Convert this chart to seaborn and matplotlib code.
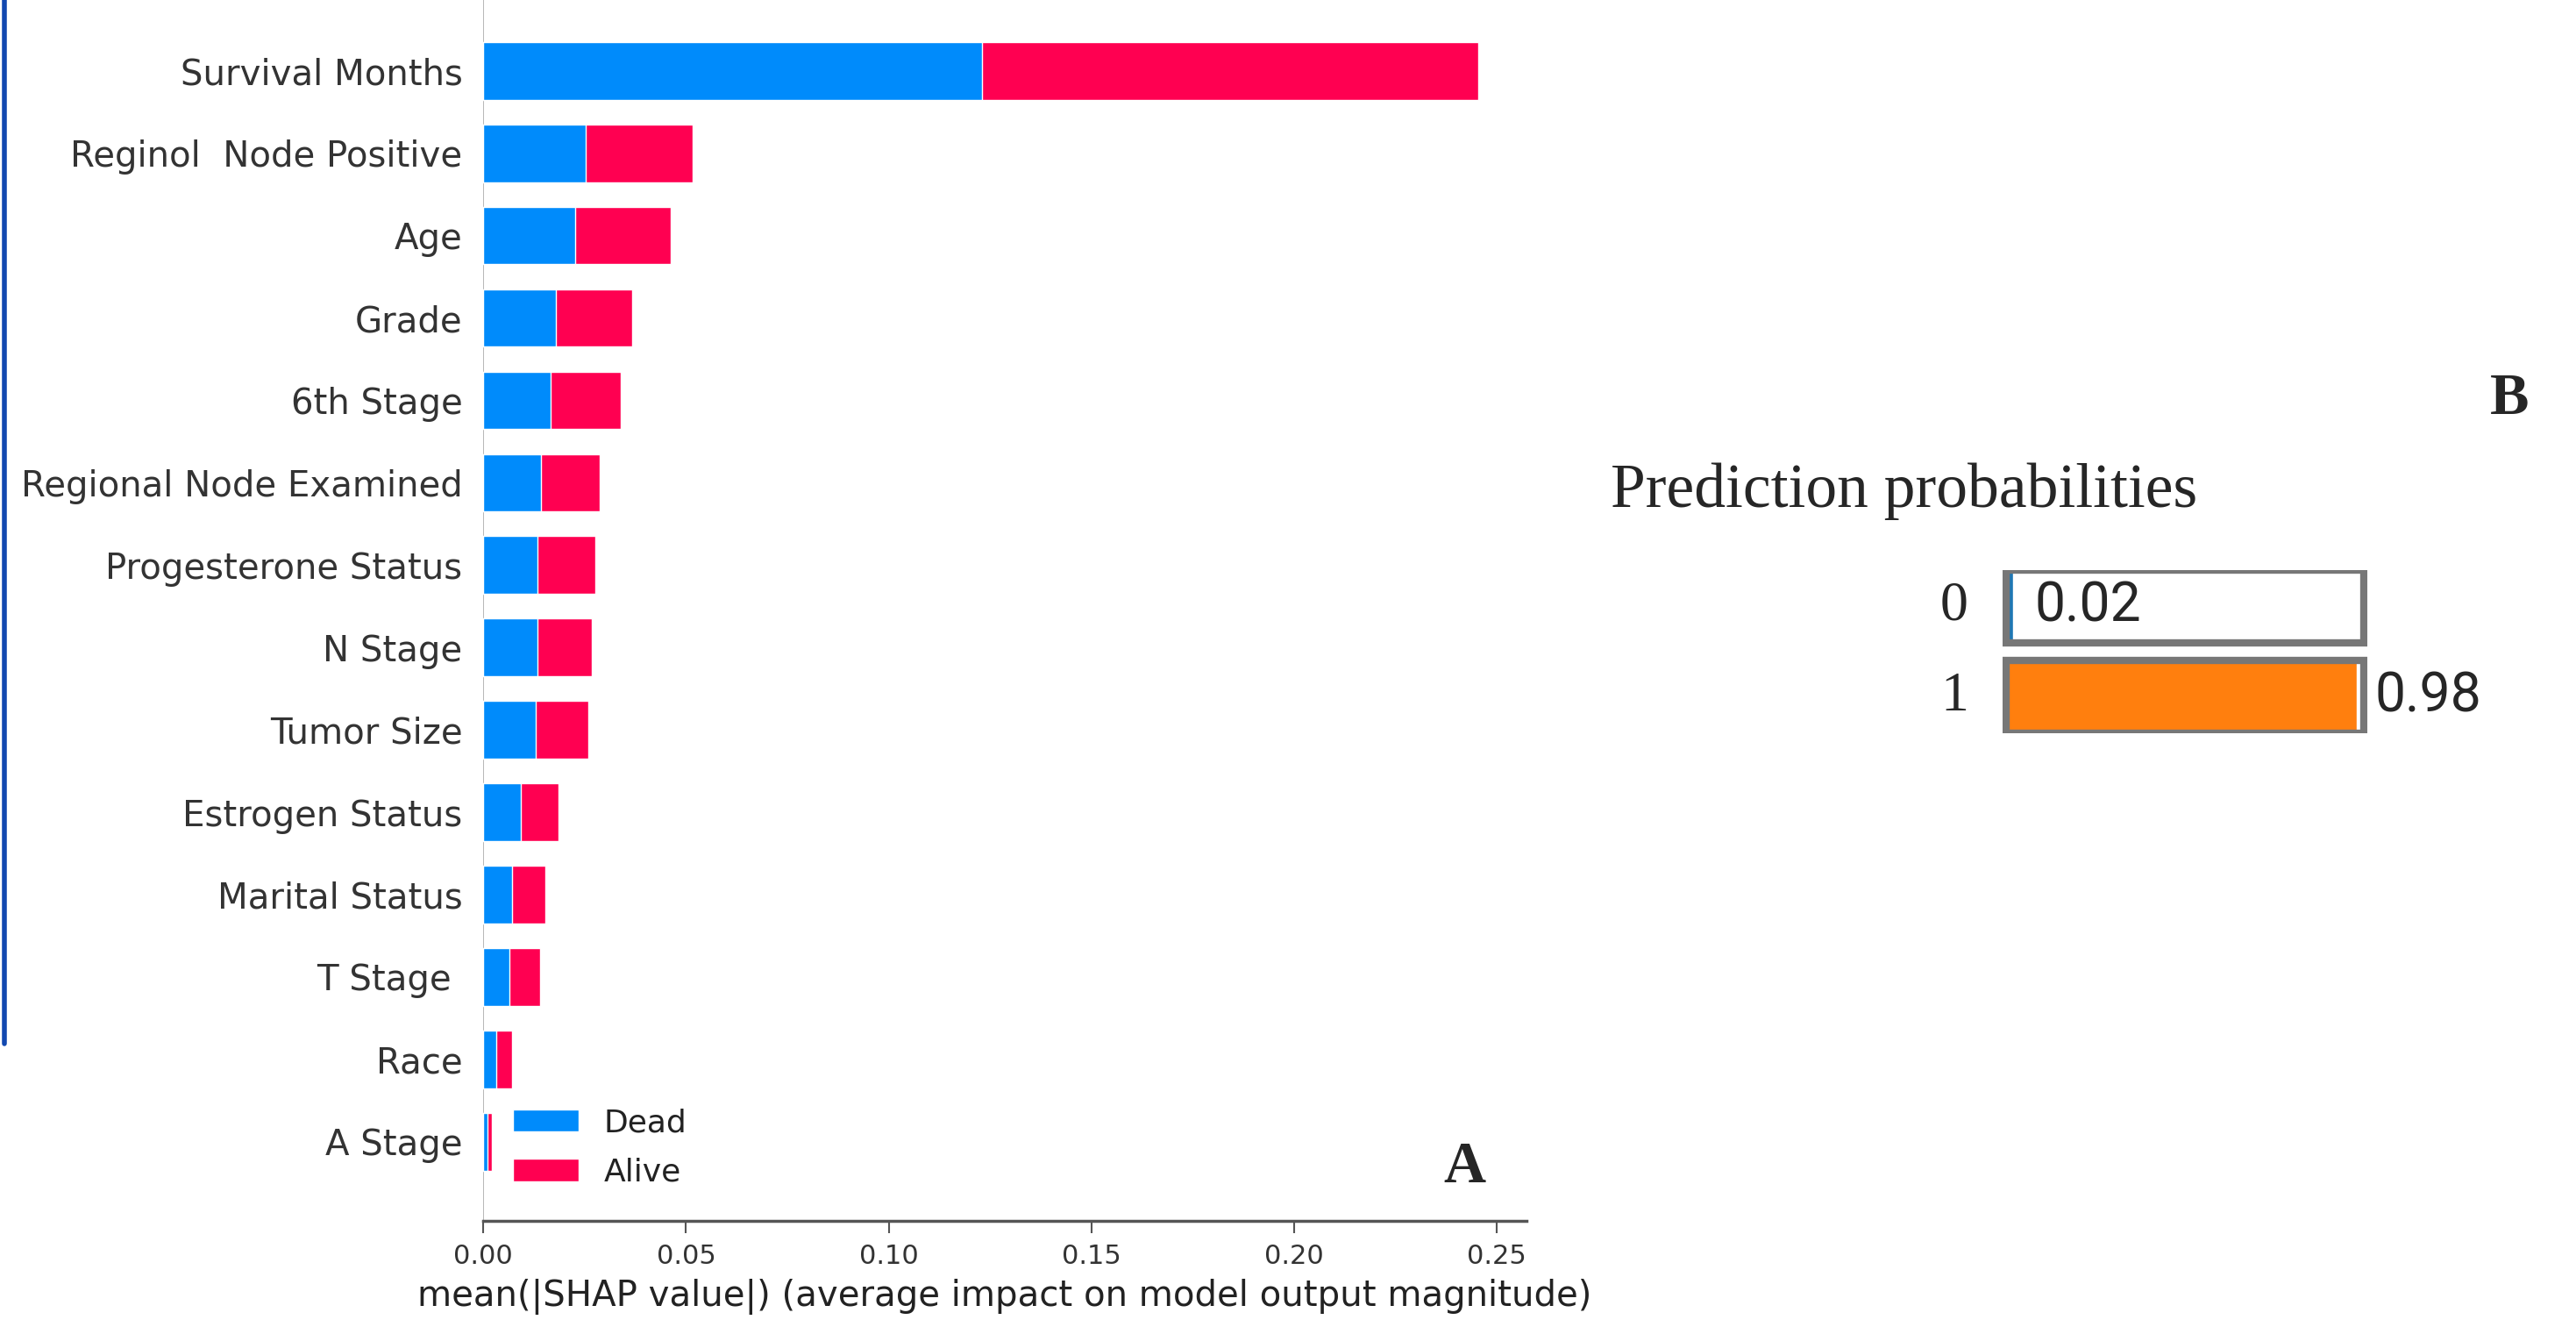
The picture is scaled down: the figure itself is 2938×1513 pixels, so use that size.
import matplotlib
matplotlib.use("Agg")
import matplotlib.pyplot as plt
from matplotlib.lines import Line2D
import seaborn as sns
import pandas as pd

# mean |SHAP| por variable y clase
features = ["Survival Months", "Reginol  Node Positive", "Age", "Grade", "6th Stage",
            "Regional Node Examined", "Progesterone Status", "N Stage", "Tumor Size",
            "Estrogen Status", "Marital Status", "T Stage ", "Race", "A Stage"]
dead = [0.1230, 0.0253, 0.0227, 0.0180, 0.0167, 0.0142, 0.0134, 0.0134, 0.0130,
        0.0093, 0.0072, 0.0065, 0.0032, 0.0011]
alive = [0.1223, 0.0264, 0.0235, 0.0188, 0.0173, 0.0146, 0.0142, 0.0133, 0.0129,
         0.0093, 0.0082, 0.0075, 0.0039, 0.0010]
xticks = [0.00, 0.05, 0.10, 0.15, 0.20, 0.25]

# probabilidades de prediccion (LIME)
classes = ["0", "1"]
probs = [0.02, 0.98]
prob_colors = ["#1f77b4", "#ff7f0e"]

BLUE = "#008bfb"
RED = "#ff0051"

df = pd.DataFrame({"feature": features, "dead": dead, "alive": alive})
df["total"] = df["dead"] + df["alive"]

sns.set_theme(style="white")
plt.rcParams["font.family"] = ["DejaVu Sans"]

fig = plt.figure(figsize=(29.38, 15.13), dpi=100)
ax = fig.add_axes([0.1876, 0.080, 0.405, 0.92])

sns.barplot(data=df, x="total", y="feature", orient="h", color=RED, saturation=1,
            width=0.7, errorbar=None, label="Alive", ax=ax)
sns.barplot(data=df, x="dead", y="feature", orient="h", color=BLUE, saturation=1,
            width=0.7, errorbar=None, label="Dead", ax=ax)

ax.set_xlim(0, 0.2573)
ax.set_ylim(len(features) - 1 + 0.96, -0.86)
ax.set_xticks(xticks)
ax.set_xticklabels([f"{t:.2f}" for t in xticks])
ax.set_ylabel("")
ax.set_xlabel("mean(|SHAP value|) (average impact on model output magnitude)",
              fontsize=29, color="#222222", labelpad=8)
for s in ["top", "right", "left"]:
    ax.spines[s].set_visible(False)
ax.spines["bottom"].set_color("#555555")
ax.spines["bottom"].set_linewidth(2.5)
ax.axvline(0, color="#aaaaaa", lw=1.2, zorder=0)
ax.tick_params(axis="y", length=0, pad=17, labelsize=29, labelcolor="#333333")
ax.tick_params(axis="x", bottom=True, length=10, width=1.5, color="#555555",
               labelsize=22, labelcolor="#333333", pad=9)

h, l = ax.get_legend_handles_labels()
ax.legend(h[::-1], l[::-1], loc="center left", bbox_to_anchor=(0.0286, 0.06),
          frameon=False, fontsize=26, handlelength=2.08, handleheight=0.7,
          handletextpad=0.78, labelspacing=0.62, borderpad=0, borderaxespad=0,
          labelcolor="#222222")

fig.text(1670 / 2938, 1 - 1331 / 1513, "A", fontsize=48, fontweight="bold",
         family="Liberation Serif", ha="center", va="center")
fig.text(2862 / 2938, 1 - 455 / 1513, "B", fontsize=48, fontweight="bold",
         family="Liberation Serif", ha="center", va="center")

# panel B
fig.text(1837 / 2938, 1 - 560 / 1513, "Prediction probabilities", fontsize=51.5,
         family="Liberation Serif", ha="left", va="center")
bx = fig.add_axes([2284 / 2938, 1 - 836 / 1513, 416 / 2938, 186 / 1513])
pdf = pd.DataFrame({"cls": classes, "p": probs, "frame": [1.0, 1.0]})
sns.barplot(data=pdf, x="p", y="cls", hue="cls", palette=prob_colors, orient="h",
            saturation=1, width=0.8, errorbar=None, legend=False, ax=bx)
sns.barplot(data=pdf, x="frame", y="cls", orient="h", fill=False, width=0.8,
            errorbar=None, ax=bx)
# marco gris de cada barra
for patch in bx.patches[len(probs):]:
    patch.set_edgecolor("#777777")
    patch.set_linewidth(6)
bx.set_xlim(-0.01, 1.01)
bx.set_ylim(1.4, -0.4)
bx.axis("off")
for i, (lab, p) in enumerate(zip(classes, probs)):
    bx.text(-0.145, i, lab, fontsize=46, family="Liberation Serif", ha="center",
            va="center")
    if p < 0.5:
        bx.text(p + 0.06, i, f"{p:.2f}", fontsize=45, family="Roboto",
                ha="left", va="center")
    else:
        bx.text(1.03, i, f"{p:.2f}", fontsize=45, family="Roboto",
                ha="left", va="center")

# linea azul del borde izquierdo
fig.add_artist(Line2D([0.0017, 0.0017], [1.0, 1 - 1190 / 1513], color="#1148b0",
                      lw=4, transform=fig.transFigure))

fig.savefig("out.png", dpi=100)
